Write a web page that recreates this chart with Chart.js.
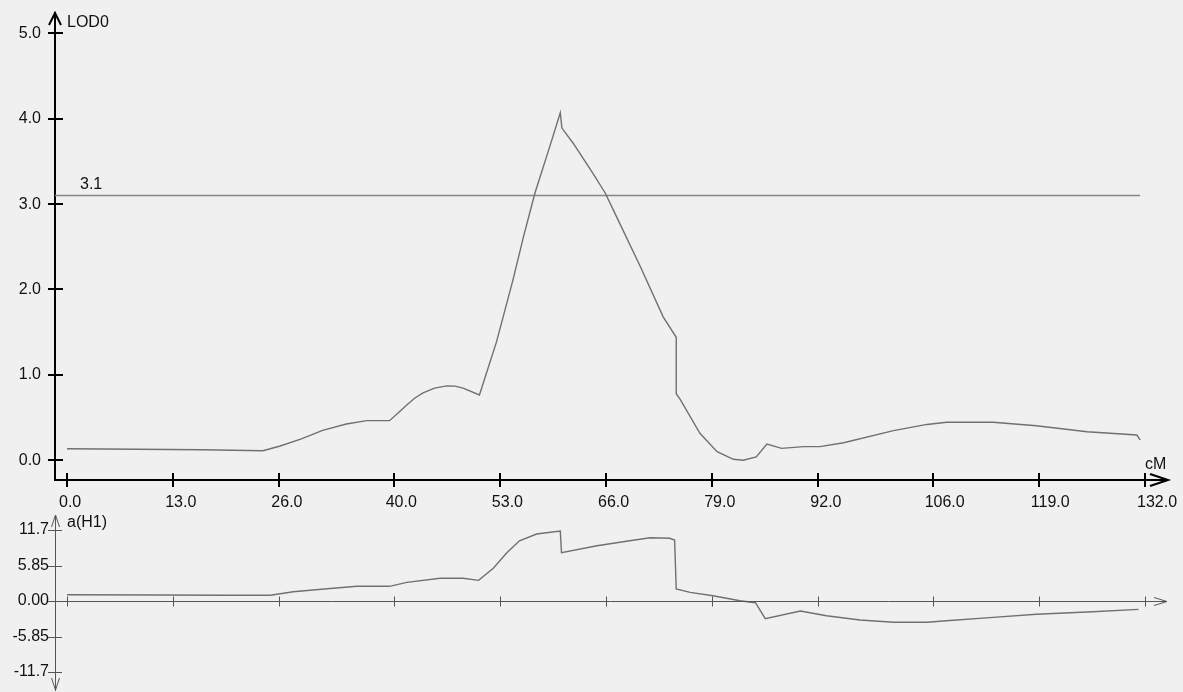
<!DOCTYPE html>
<html>
<head>
<meta charset="utf-8">
<title>LOD0 / a(H1)</title>
<script src="https://cdn.jsdelivr.net/npm/chart.js@4.4.1/dist/chart.umd.min.js"></script>
<style>
  html, body { margin: 0; padding: 0; background: #f0f0f0; }
  #wrap { position: relative; width: 1183px; height: 692px; background: #f0f0f0; }
  #wrap canvas { position: absolute; left: 0; top: 0; }
</style>
</head>
<body>
<div id="wrap">
  <canvas id="lodChart" width="1183" height="692"></canvas>
  <canvas id="effectChart" width="1183" height="692"></canvas>
</div>
<script>
// Map positions (cM) and LOD scores
const positionsCM = [0.0, 8.5, 16.6, 24.0, 26.1, 28.7, 31.3, 34.2, 36.7, 39.5, 40.6, 41.6, 42.6, 43.6, 45.0, 46.5, 47.5, 48.5, 50.5, 52.6, 54.6, 55.9, 57.3, 59.1, 60.4, 60.6, 62.0, 64.4, 65.9, 67.3, 70.2, 73.0, 74.6, 74.6, 75.1, 77.5, 79.6, 81.6, 82.8, 84.4, 85.7, 87.5, 90.2, 92.2, 95.1, 101.2, 105.3, 107.7, 113.4, 118.7, 124.9, 131.0, 131.4];
const lodValues = [0.136, 0.129, 0.124, 0.112, 0.167, 0.25, 0.35, 0.425, 0.464, 0.464, 0.56, 0.648, 0.73, 0.79, 0.845, 0.872, 0.868, 0.845, 0.765, 1.39, 2.11, 2.62, 3.13, 3.67, 4.07, 3.89, 3.71, 3.36, 3.13, 2.85, 2.27, 1.68, 1.44, 0.78, 0.71, 0.316, 0.10, 0.012, 0.0, 0.04, 0.19, 0.14, 0.16, 0.16, 0.206, 0.347, 0.42, 0.445, 0.445, 0.405, 0.335, 0.296, 0.238];

// Additive effect a(H1) along the same map
const effectPositionsCM = [0.0, 11.4, 19.5, 24.9, 27.7, 31.5, 35.5, 39.5, 41.6, 45.7, 48.5, 50.4, 52.2, 53.8, 55.4, 57.5, 60.4, 60.55, 64.9, 68.9, 71.4, 73.8, 74.4, 74.6, 76.3, 79.1, 82.4, 84.3, 85.5, 89.8, 93.0, 97.1, 101.2, 105.3, 107.7, 113.4, 118.7, 125.6, 131.2];
const effectValues = [1.04, 0.99, 0.94, 0.94, 1.53, 1.98, 2.42, 2.42, 3.08, 3.74, 3.74, 3.40, 5.39, 7.86, 9.93, 11.04, 11.53, 7.96, 9.11, 9.93, 10.43, 10.33, 10.05, 1.98, 1.43, 0.87, 0.05, -0.28, -2.92, -1.65, -2.42, -3.13, -3.51, -3.51, -3.24, -2.69, -2.19, -1.76, -1.37];

// LOD significance threshold
const lodThreshold = 3.1;

// Tick marks
const xTickValues = [0, 13, 26, 40, 53, 66, 79, 92, 106, 119, 132];
const lodTickValues = [0, 1, 2, 3, 4, 5];
const effectTickValues = [-11.7, -5.85, 0, 5.85, 11.7];
const effectTickLabels = ['-11.7', '-5.85', '0.00', '5.85', '11.7'];

// Axis titles
const lodAxisTitle = 'LOD0';
const xAxisTitle = 'cM';
const effectAxisTitle = 'a(H1)';

// Shared x range so both panels line up
const X_MIN = -1.47;
const X_MAX = 134.57;

const FONT_FAMILY = "'Liberation Sans', Arial, sans-serif";
const TEXT_COLOR = '#111';
const tickFont = { family: FONT_FAMILY, size: 16 };

function pts(xs, ys) { return xs.map((x, i) => ({ x: x, y: ys[i] })); }

function line(ctx, x1, y1, x2, y2) {
  ctx.beginPath(); ctx.moveTo(x1, y1); ctx.lineTo(x2, y2); ctx.stroke();
}
function polyline(ctx, p) {
  ctx.beginPath(); ctx.moveTo(p[0][0], p[0][1]);
  for (let i = 1; i < p.length; i++) ctx.lineTo(p[i][0], p[i][1]);
  ctx.stroke();
}

// Keep the plot area exactly where the layout padding puts it
function fixWidth(w) {
  return s => { s.width = w; s.paddingTop = 0; s.paddingBottom = 0; };
}

// Crossing tick marks, arrow heads and axis titles for the LOD panel
const lodDecor = {
  id: 'lodDecor',
  afterDraw(chart) {
    const ctx = chart.ctx, xs = chart.scales.x, ys = chart.scales.y;
    const ax = chart.chartArea.left, ay = chart.chartArea.bottom, top = chart.chartArea.top;
    ctx.save();
    ctx.strokeStyle = '#000'; ctx.lineWidth = 2;
    lodTickValues.forEach(v => { const py = Math.round(ys.getPixelForValue(v)); line(ctx, ax - 7, py, ax + 8, py); });
    xTickValues.forEach(v => { const px = Math.round(xs.getPixelForValue(v)); line(ctx, px, ay - 7, px, ay + 7); });
    // arrow heads
    polyline(ctx, [[ax - 6, top + 12], [ax, top], [ax + 6, top + 12]]);
    const rx = chart.chartArea.right;
    polyline(ctx, [[rx - 16, ay - 6], [rx + 2, ay], [rx - 16, ay + 6]]);
    // titles
    ctx.fillStyle = TEXT_COLOR;
    ctx.font = '16px ' + FONT_FAMILY;
    ctx.textBaseline = 'middle'; ctx.textAlign = 'left';
    ctx.fillText(lodAxisTitle, ax + 12, top + 10);
    ctx.fillText(xAxisTitle, rx - 21, ay - 15);
    ctx.fillText(lodThreshold.toFixed(1), xs.getPixelForValue(X_MIN) + 25, ys.getPixelForValue(lodThreshold) - 11);
    ctx.restore();
  }
};

// Zero line with ticks, arrow heads and title for the effect panel
const effectDecor = {
  id: 'effectDecor',
  afterDraw(chart) {
    const ctx = chart.ctx, xs = chart.scales.x, ys = chart.scales.y;
    const ax = chart.chartArea.left, top = chart.chartArea.top, bottom = chart.chartArea.bottom;
    const rx = chart.chartArea.right;
    const y0 = Math.round(ys.getPixelForValue(0)) + 0.5;
    ctx.save();
    ctx.strokeStyle = '#555'; ctx.lineWidth = 1;
    line(ctx, ax, y0, rx, y0);
    xTickValues.forEach(v => { const px = Math.round(xs.getPixelForValue(v)) + 0.5; line(ctx, px, y0 - 5, px, y0 + 5); });
    effectTickValues.forEach(v => { const py = Math.round(ys.getPixelForValue(v)) + 0.5; line(ctx, ax - 7, py, ax + 7, py); });
    polyline(ctx, [[rx - 12, y0 - 4], [rx + 1, y0], [rx - 12, y0 + 4]]);
    polyline(ctx, [[ax - 3.5, top + 12], [ax + 0.5, top], [ax + 4.5, top + 12]]);
    polyline(ctx, [[ax - 3.5, bottom - 12], [ax + 0.5, bottom], [ax + 4.5, bottom - 12]]);
    ctx.fillStyle = TEXT_COLOR;
    ctx.font = '16px ' + FONT_FAMILY;
    ctx.textBaseline = 'middle'; ctx.textAlign = 'left';
    ctx.fillText(effectAxisTitle, ax + 12, top + 8);
    ctx.restore();
  }
};

const hiddenGrid = { display: true, drawOnChartArea: false, drawTicks: false, color: 'rgba(0,0,0,0)' };

new Chart(document.getElementById('lodChart'), {
  type: 'line',
  data: {
    datasets: [
      { data: pts(positionsCM, lodValues), borderColor: '#707070', borderWidth: 1.4, pointRadius: 0, tension: 0 },
      { data: [{ x: X_MIN, y: lodThreshold }, { x: positionsCM[positionsCM.length - 1], y: lodThreshold }],
        borderColor: '#858585', borderWidth: 1.6, pointRadius: 0, tension: 0 }
    ]
  },
  options: {
    responsive: false, animation: false, events: [],
    layout: { padding: { top: 13, right: 17, bottom: 0, left: 0 }, autoPadding: false },
    plugins: { legend: { display: false }, tooltip: { enabled: false } },
    scales: {
      x: {
        type: 'linear', min: X_MIN, max: X_MAX,
        afterBuildTicks: s => { s.ticks = xTickValues.map(v => ({ value: v })); },
        afterFit: s => { s.height = 212; s.paddingLeft = 0; s.paddingRight = 0; },
        grid: hiddenGrid,
        border: { display: true, color: '#000', width: 2 },
        ticks: { font: tickFont, color: TEXT_COLOR, padding: 13, maxRotation: 0, autoSkip: false,
                 align: 'start', labelOffset: -8,
                 callback: v => Number(v).toFixed(1) }
      },
      y: {
        type: 'linear', min: -0.2307, max: 5.2377,
        afterBuildTicks: s => { s.ticks = lodTickValues.map(v => ({ value: v })); },
        afterFit: fixWidth(55),
        grid: hiddenGrid,
        border: { display: true, color: '#000', width: 2 },
        ticks: { font: tickFont, color: TEXT_COLOR, padding: 14, autoSkip: false,
                 callback: v => Number(v).toFixed(1) }
      }
    }
  },
  plugins: [lodDecor]
});

new Chart(document.getElementById('effectChart'), {
  type: 'line',
  data: {
    datasets: [
      { data: pts(effectPositionsCM, effectValues), borderColor: '#707070', borderWidth: 1.4, pointRadius: 0, tension: 0 }
    ]
  },
  options: {
    responsive: false, animation: false, events: [],
    layout: { padding: { top: 515, right: 17, bottom: 2, left: 0 }, autoPadding: false },
    plugins: { legend: { display: false }, tooltip: { enabled: false } },
    scales: {
      x: { type: 'linear', min: X_MIN, max: X_MAX, display: false },
      y: {
        type: 'linear', min: -14.66, max: 14.17,
        afterBuildTicks: s => { s.ticks = effectTickValues.map(v => ({ value: v })); },
        afterFit: fixWidth(55),
        grid: hiddenGrid,
        border: { display: true, color: '#555', width: 1 },
        ticks: { font: tickFont, color: TEXT_COLOR, padding: 6, autoSkip: false,
                 callback: (v, i) => effectTickLabels[i] }
      }
    }
  },
  plugins: [effectDecor]
});
</script>
</body>
</html>
